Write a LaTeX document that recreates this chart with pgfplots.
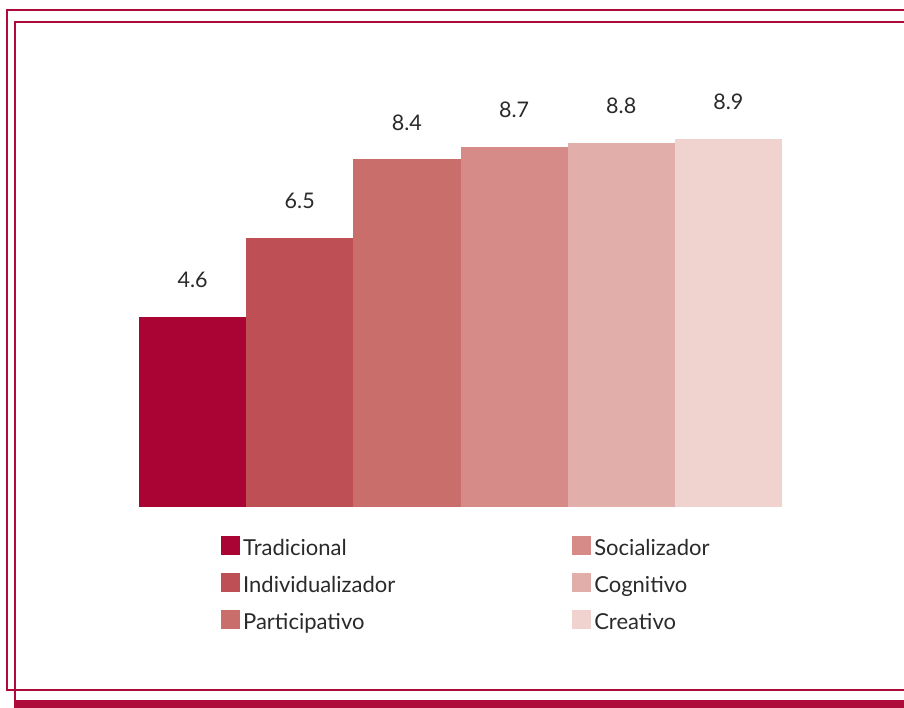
\documentclass[border=0pt]{standalone}
\usepackage{fontspec}
\setmainfont{Lato}
\usepackage{pgfplots}
\pgfplotsset{compat=1.18}
\definecolor{c1}{HTML}{A90433}
\definecolor{c2}{HTML}{BE5055}
\definecolor{c3}{HTML}{C96E6B}
\definecolor{c4}{HTML}{D68B88}
\definecolor{c5}{HTML}{E2AEA9}
\definecolor{c6}{HTML}{F0D3CF}
\definecolor{framec}{HTML}{AE0A3A}
\definecolor{txt}{HTML}{2A2A2A}
\pgfplotsset{sq/.style={draw=none, bar shift=0pt,
  legend image code/.code={\fill[##1] (0pt,-7pt) rectangle (19pt,12pt);}}}
\begin{document}
\begin{tikzpicture}[x=1pt,y=1pt]
\clip (0,0) rectangle (904,708);
\fill[white] (0,0) rectangle (904,708);
\draw[framec, line width=2.8pt] (930,698) -- (7,698) -- (7,18) -- (930,18);
\draw[framec, line width=2.6pt] (930,686) -- (15,686) -- (15,6);
\fill[framec] (13.7,0) rectangle (930,8);
\begin{axis}[at={(139pt,201pt)}, anchor=south west, scale only axis,
  width=643pt, height=414pt, xmin=0.5, xmax=6.5, ymin=0, ymax=10,
  hide axis, ybar, bar width=1,
  nodes near coords={\pgfmathprintnumber[fixed,fixed zerofill,precision=1,assume math mode=true]{\pgfplotspointmeta}},
  every node near coord/.append style={anchor=base, yshift=29pt, font=\fontsize{21.5}{21.5}\selectfont, text=txt},
  legend columns=2,
  legend style={at={(axis description cs:0.1275,-0.0701)}, anchor=north west,
    draw=none, fill=none, inner sep=0pt, font=\fontsize{22}{22}\selectfont, text=txt,
    nodes={inner sep=0pt, text height=19pt, text depth=5pt},
    row sep=13pt,
    /tikz/every odd column/.style={column sep=3pt},
    /tikz/every even column/.style={column sep=177pt}},
  legend cell align=left]
\addplot[sq, fill=c1] coordinates {(1,4.6)};
\addlegendentry{Tradicional}
\addplot[sq, fill=c4] coordinates {(4,8.7)};
\addlegendentry{Socializador}
\addplot[sq, fill=c2] coordinates {(2,6.5)};
\addlegendentry{Individualizador}
\addplot[sq, fill=c5] coordinates {(5,8.8)};
\addlegendentry{Cognitivo}
\addplot[sq, fill=c3] coordinates {(3,8.4)};
\addlegendentry{Participativo}
\addplot[sq, fill=c6] coordinates {(6,8.9)};
\addlegendentry{Creativo}
\end{axis}
\end{tikzpicture}
\end{document}
